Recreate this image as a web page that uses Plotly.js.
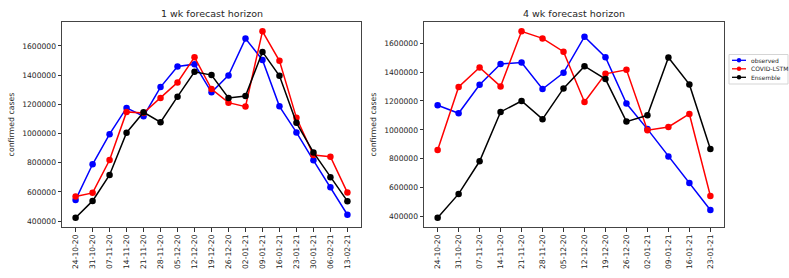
<!DOCTYPE html>
<html><head><meta charset="utf-8">
<script src="https://cdn.plot.ly/plotly-3.0.1.min.js"></script>
<style>html,body{margin:0;padding:0;background:#fff}#chart{width:789px;height:278px}</style>
</head><body><div id="chart"></div>
<script>
// 1-week horizon
const weeks1 = ["24-10-20","31-10-20","07-11-20","14-11-20","21-11-20","28-11-20","05-12-20","12-12-20","19-12-20","26-12-20","02-01-21","09-01-21","16-01-21","23-01-21","30-01-21","06-02-21","13-02-21"];
const observed1 = [545000,789000,995000,1175000,1118000,1318000,1459000,1475000,1282000,1398000,1650000,1504000,1186000,1007000,816000,632000,443000];
const lstm1     = [568000,593000,818000,1148000,1140000,1243000,1350000,1523000,1304000,1211000,1184000,1700000,1498000,1107000,852000,841000,595000];
const ens1      = [423000,538000,716000,1005000,1145000,1077000,1252000,1423000,1400000,1243000,1257000,1559000,1395000,1073000,870000,700000,536000];
// 4-week horizon
const weeks4 = ["24-10-20","31-10-20","07-11-20","14-11-20","21-11-20","28-11-20","05-12-20","12-12-20","19-12-20","26-12-20","02-01-21","09-01-21","16-01-21","23-01-21"];
const observed4 = [1170000,1115000,1312000,1457000,1467000,1283000,1395000,1646000,1503000,1182000,1005000,816000,632000,444000];
const lstm4     = [860000,1297000,1432000,1301000,1683000,1634000,1542000,1193000,1388000,1416000,998000,1020000,1110000,542000];
const ens4      = [391000,556000,782000,1124000,1200000,1074000,1287000,1441000,1352000,1057000,1101000,1501000,1315000,867000];
const yTicks = [400000,600000,800000,1000000,1200000,1400000,1600000];
const seriesNames = ["observed","COVID-LSTM","Ensemble"];
const seriesColors = ["#0000ff","#ff0000","#000000"];

function pad(arrs){const all=[].concat(...arrs);const mn=Math.min(...all),mx=Math.max(...all);const m=(mx-mn)*0.05;return [mn-m,mx+m];}
const W=789,H=278;
const px=v=>v/W, py=v=>1-v/H;
const font = {family:"DejaVu Sans", color:"#262626"};
function mk(x,y,i,xa,ya){return {x:x,y:y,type:"scatter",mode:"lines+markers",name:seriesNames[i],xaxis:xa,yaxis:ya,showlegend:false,
  line:{color:seriesColors[i],width:1.5},marker:{color:seriesColors[i],size:6.5}};}
const data=[
 mk(weeks1,observed1,0,"x","y"),mk(weeks1,lstm1,1,"x","y"),mk(weeks1,ens1,2,"x","y"),
 mk(weeks4,observed4,0,"x2","y2"),mk(weeks4,lstm4,1,"x2","y2"),mk(weeks4,ens4,2,"x2","y2")];
function xax(dom,cats,anchor){return {domain:dom,anchor:anchor,type:"category",range:[-(cats.length-1)*0.05,(cats.length-1)*1.05],
  tickangle:-90,tickfont:{size:7.6,family:"DejaVu Sans",color:"#262626"},ticks:"outside",ticklen:3.5,tickcolor:"#333",showline:true,mirror:true,linecolor:"#444",linewidth:1,showgrid:false,zeroline:false,fixedrange:true};}
function yax(dom,rng,anchor){return {domain:dom,anchor:anchor,range:rng,tickvals:yTicks,ticktext:yTicks.map(String),tickfont:{size:7.6,family:"DejaVu Sans",color:"#262626"},
  ticks:"outside",ticklen:3.5,tickcolor:"#333",showline:true,mirror:true,linecolor:"#444",linewidth:1,showgrid:false,zeroline:false,
  title:{text:"confirmed cases",font:{size:7.8,family:"DejaVu Sans",color:"#262626"},standoff:6}};}
const yd=[1-227/H,1-22/H];
// custom compact legend (matplotlib style)
const shapes=[{type:"rect",xref:"paper",yref:"paper",x0:px(729),x1:px(788),y0:py(84),y1:py(54.5),line:{color:"#d5d5d5",width:1},fillcolor:"rgba(255,255,255,0.8)"}];
const annotations=[
  {text:"1 wk forecast horizon",xref:"paper",yref:"paper",x:px(211.5),y:py(13),xanchor:"center",yanchor:"middle",showarrow:false,font:{size:9.5,family:"DejaVu Sans",color:"#262626"}},
  {text:"4 wk forecast horizon",xref:"paper",yref:"paper",x:px(574),y:py(13),xanchor:"center",yanchor:"middle",showarrow:false,font:{size:9.5,family:"DejaVu Sans",color:"#262626"}}];
const itemY=[60.3,68.8,77.3];
seriesNames.forEach((n,i)=>{
  const yy=itemY[i];
  shapes.push({type:"line",xref:"paper",yref:"paper",x0:px(732),x1:px(746),y0:py(yy),y1:py(yy),line:{color:seriesColors[i],width:1.3}});
  shapes.push({type:"circle",xref:"paper",yref:"paper",x0:px(739-2.2),x1:px(739+2.2),y0:py(yy+2.2),y1:py(yy-2.2),fillcolor:seriesColors[i],line:{color:seriesColors[i],width:0}});
  annotations.push({text:n,xref:"paper",yref:"paper",x:px(748.5),y:py(yy),xanchor:"left",yanchor:"middle",showarrow:false,font:{size:6,family:"DejaVu Sans",color:"#262626"}});
});
const layout={width:W,height:H,margin:{l:0,r:0,t:0,b:0},paper_bgcolor:"#fff",plot_bgcolor:"#fff",font:font,showlegend:false,
 xaxis:xax([62/W,361/W],weeks1,"y"),yaxis:yax(yd,pad([observed1,lstm1,ens1]),"x"),
 xaxis2:xax([424/W,724/W],weeks4,"y2"),yaxis2:yax(yd,pad([observed4,lstm4,ens4]),"x2"),
 shapes:shapes,annotations:annotations};
Plotly.newPlot("chart",data,layout,{displayModeBar:false,staticPlot:true});
</script></body></html>
